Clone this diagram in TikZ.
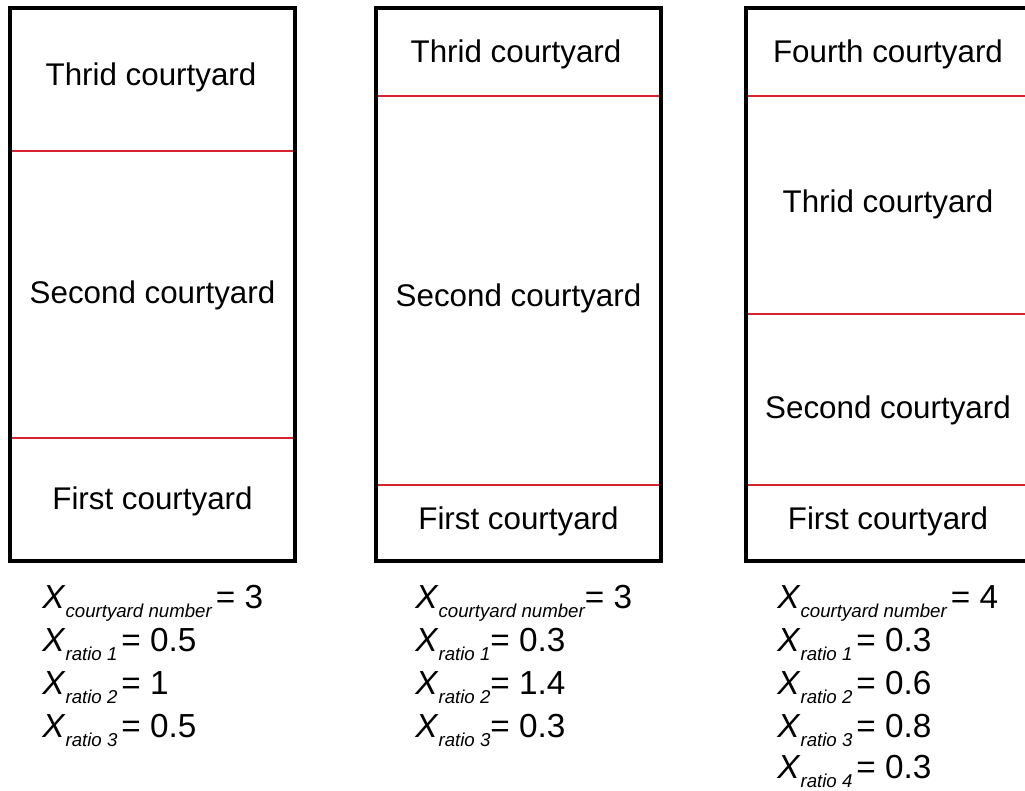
\documentclass[tikz,border=0pt]{standalone}
\usepackage{fontspec}
\setmainfont{Liberation Sans}
\definecolor{splitred}{RGB}{215,35,45}
\newcommand{\varsub}[1]{\raisebox{-7pt}{\fontsize{14}{16}\selectfont\itshape #1}}

\begin{document}
\begin{tikzpicture}[x=0.75pt, y=-0.75pt, every node/.style={font=\fontsize{23.5}{28}\selectfont, inner sep=0pt, anchor=base}, wall/.style={draw=black, line width=2.5pt}, split/.style={draw=splitred, line width=1.6pt}, var/.style={anchor=base west, font=\fontsize{25}{30}\selectfont}]
	\useasboundingbox (0,0) rectangle (1025,790);
	\fill[white] (0,0) rectangle (1025,790);
	\draw[split] (10,151) -- (295,151) (10,438) -- (295,438);
	\draw[split] (376,96) -- (661,96) (376,485) -- (661,485);
	\draw[split] (746,96) -- (1031,96) (746,314) -- (1031,314) (746,485) -- (1031,485);
	\draw[wall] (10,8) rectangle (295,561);
	\draw[wall] (376,8) rectangle (661,561);
	\draw[wall] (746,8) rectangle (1031,561);
	\node (A-third) at (151,85) {Thrid courtyard};
	\node (A-second) at (152.5,303) {Second courtyard};
	\node (A-first) at (152.5,509) {First courtyard};
	\node (B-third) at (516,62) {Thrid courtyard};
	\node (B-second) at (518.5,306) {Second courtyard};
	\node (B-first) at (518.5,529) {First courtyard};
	\node (C-fourth) at (888,62) {Fourth courtyard};
	\node (C-third) at (888,212) {Thrid courtyard};
	\node (C-second) at (888,418) {Second courtyard};
	\node (C-first) at (888,529) {First courtyard};
	\node[var] (A-num) at (42,608) {\textit{X}\varsub{courtyard number}\hspace{3pt}= 3};
	\node[var] (A-r1) at (42,651) {\textit{X}\varsub{ratio 1}\hspace{3pt}= 0.5};
	\node[var] (A-r2) at (42,694) {\textit{X}\varsub{ratio 2}\hspace{3pt}= 1};
	\node[var] (A-r3) at (42,737) {\textit{X}\varsub{ratio 3}\hspace{3pt}= 0.5};
	\node[var] (B-num) at (415,608) {\textit{X}\varsub{courtyard number}= 3};
	\node[var] (B-r1) at (415,651) {\textit{X}\varsub{ratio 1}= 0.3};
	\node[var] (B-r2) at (415,694) {\textit{X}\varsub{ratio 2}= 1.4};
	\node[var] (B-r3) at (415,737) {\textit{X}\varsub{ratio 3}= 0.3};
	\node[var] (C-num) at (777,608) {\textit{X}\varsub{courtyard number}\hspace{3pt}= 4};
	\node[var] (C-r1) at (777,651) {\textit{X}\varsub{ratio 1}\hspace{3pt}= 0.3};
	\node[var] (C-r2) at (777,694) {\textit{X}\varsub{ratio 2}\hspace{3pt}= 0.6};
	\node[var] (C-r3) at (777,737) {\textit{X}\varsub{ratio 3}\hspace{3pt}= 0.8};
	\node[var] (C-r4) at (777,778) {\textit{X}\varsub{ratio 4}\hspace{3pt}= 0.3};
\end{tikzpicture}
\end{document}
